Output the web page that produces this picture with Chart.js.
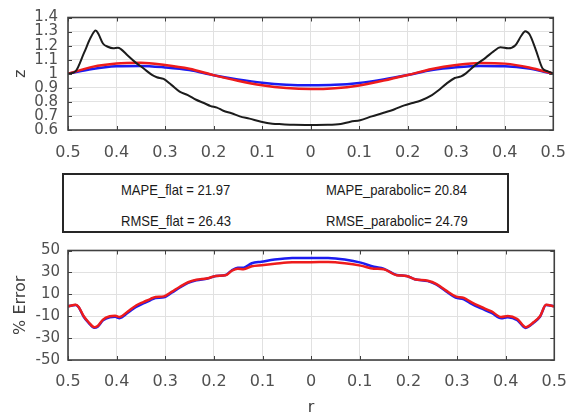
<!DOCTYPE html>
<html>
<head>
<meta charset="utf-8">
<script src="https://cdn.jsdelivr.net/npm/chart.js@4"></script>
<style>
  body { margin: 0; background: #fff; }
  #wrap { position: relative; width: 581px; height: 417px; overflow: hidden; }
  canvas { position: absolute; left: 0; }
  #c1 { top: 0; }
  #c2 { top: 235px; }
  #stats { position: absolute; left: 62px; top: 173px; width: 447px; height: 60px;
           border: 2px solid #262626; box-sizing: border-box; }
  .st { position: absolute; font: 15px "Liberation Sans", Arial, sans-serif; line-height: 15px;
        color: #1a1a1a; white-space: nowrap; transform: scaleX(0.87); transform-origin: left center; }
</style>
</head>
<body>
<div id="wrap">
  <canvas id="c1" width="581" height="165"></canvas>
  <div id="stats"></div>
  <canvas id="c2" width="581" height="182"></canvas>
</div>
<script>
// top panel: measured profile (black) vs flat / parabolic fits
const rMeasured = [-0.5, -0.484, -0.467, -0.453, -0.443, -0.437, -0.428, -0.418, -0.407, -0.397, -0.391, -0.377,
  -0.361, -0.344, -0.327, -0.317, -0.303, -0.287, -0.27, -0.253, -0.236, -0.22, -0.206, -0.193, -0.18, -0.163,
  -0.146, -0.126, -0.102, -0.079, -0.059, -0.035, 0, 0.035, 0.062, 0.082, 0.102, 0.126, 0.149, 0.173, 0.193,
  0.21, 0.226, 0.25, 0.263, 0.28, 0.297, 0.31, 0.32, 0.34, 0.361, 0.377, 0.391, 0.407, 0.422, 0.434, 0.442,
  0.451, 0.464, 0.478, 0.488, 0.5];
const zMeasured = [0.999, 1.019, 1.148, 1.259, 1.308, 1.281, 1.215, 1.192, 1.181, 1.185, 1.175, 1.13,
  1.081, 1.037, 0.992, 0.975, 0.963, 0.921, 0.873, 0.848, 0.815, 0.792, 0.77, 0.759, 0.737, 0.719,
  0.697, 0.681, 0.659, 0.645, 0.641, 0.637, 0.636, 0.637, 0.643, 0.659, 0.67, 0.697, 0.721, 0.748, 0.775,
  0.792, 0.808, 0.848, 0.881, 0.93, 0.97, 0.981, 1.003, 1.063, 1.115, 1.159, 1.188, 1.181, 1.203, 1.27, 1.303,
  1.281, 1.17, 1.037, 1.019, 1.003];

const rModel = [-0.5, -0.45, -0.4, -0.35, -0.3, -0.25, -0.2, -0.15, -0.1, -0.05, 0,
  0.05, 0.1, 0.15, 0.2, 0.25, 0.3, 0.35, 0.4, 0.45, 0.5];
const zFlat = [1.0, 1.034, 1.053, 1.056, 1.045, 1.026, 0.99, 0.96, 0.936, 0.922, 0.918,
  0.921, 0.935, 0.96, 0.991, 1.026, 1.046, 1.056, 1.054, 1.037, 1.0];
const zParabolic = [1.0, 1.049, 1.073, 1.078, 1.062, 1.035, 0.99, 0.95, 0.918, 0.898, 0.891,
  0.897, 0.917, 0.951, 0.991, 1.034, 1.062, 1.077, 1.072, 1.045, 1.0];

// bottom panel: percent error of each fit
const rError = [-0.5, -0.484, -0.478, -0.468, -0.458, -0.446, -0.439, -0.428, -0.414, -0.403, -0.394, -0.377,
  -0.36, -0.344, -0.33, -0.32, -0.303, -0.287, -0.27, -0.253, -0.236, -0.213, -0.196, -0.176, -0.163, -0.151,
  -0.139, -0.122, -0.102, -0.075, -0.039, 0, 0.035, 0.069, 0.102, 0.129, 0.149, 0.176, 0.196, 0.213, 0.24,
  0.257, 0.277, 0.297, 0.314, 0.33, 0.35, 0.371, 0.391, 0.404, 0.424, 0.441, 0.458, 0.471, 0.483, 0.5];
const errFlat = [-1.0, 0.3, -1.8, -10.3, -15.9, -20.6, -19.6, -13.8, -11.0, -10.6, -11.8, -6.9,
  -1.5, 1.9, 4.8, 6.5, 7.2, 11.4, 16.2, 20.4, 22.8, 24.4, 26.8, 27.6, 32.0, 34.2,
  34.3, 38.4, 39.8, 41.7, 43.1, 43.2, 43.1, 41.7, 38.9, 35.1, 33.4, 27.6, 26.8, 23.7, 22.0,
  19.0, 12.8, 7.0, 5.5, 1.3, -2.9, -7.0, -11.9, -11.0, -13.6, -20.7, -15.8, -10.2, 0.2, -1.0];
const errParabolic = [-1.0, 0.4, -1.6, -9.8, -15.3, -20.0, -18.9, -13.1, -10.1, -9.6, -10.7, -5.7,
  -0.2, 3.1, 5.9, 7.5, 8.1, 12.2, 16.9, 21.0, 23.2, 24.6, 26.8, 27.4, 31.5, 33.4,
  32.9, 35.6, 36.6, 37.8, 39.2, 39.3, 39.5, 38.4, 36.2, 33.4, 32.9, 27.4, 26.8, 23.8, 22.4,
  19.6, 13.6, 8.1, 6.7, 2.6, -1.6, -5.7, -10.7, -9.8, -12.6, -20.0, -15.3, -9.8, 0.4, -1.0];

const statLines = [
  ['MAPE_flat = 21.97', 'MAPE_parabolic= 20.84'],
  ['RMSE_flat = 26.43', 'RMSE_parabolic= 24.79']
];

const pts = (xs, ys) => xs.map((x, i) => ({x: x, y: ys[i]}));
const xTickFont = {family: 'DejaVu Sans', size: 16, lineHeight: 1};
const yTickFont = {family: 'DejaVu Sans', size: 15, lineHeight: 1};
const titleFont = {family: 'DejaVu Sans', size: 16, lineHeight: 1.2};
const tickColor = '#505050';
const gridColor = '#e1e1e1';

// matlab-ish box with inward ticks
const frame = {
  id: 'frame',
  afterDraw(chart) {
    const {ctx, chartArea: a, scales} = chart;
    ctx.save();
    ctx.strokeStyle = '#404040';
    ctx.lineWidth = 1;
    ctx.beginPath();
    scales.x.ticks.forEach(t => {
      const p = Math.round(scales.x.getPixelForValue(t.value)) + 0.5;
      ctx.moveTo(p, a.bottom); ctx.lineTo(p, a.bottom - 4);
      ctx.moveTo(p, a.top); ctx.lineTo(p, a.top + 4);
    });
    scales.y.ticks.forEach(t => {
      const p = Math.round(scales.y.getPixelForValue(t.value)) + 0.5;
      ctx.moveTo(a.left, p); ctx.lineTo(a.left + 4, p);
      ctx.moveTo(a.right, p); ctx.lineTo(a.right - 4, p);
    });
    ctx.stroke();
    ctx.lineWidth = 1.6;
    ctx.strokeRect(a.left, a.top, a.right - a.left, a.bottom - a.top);
    ctx.restore();
  }
};

function xScale(height, pad, title) {
  return {
    type: 'linear', min: -0.5, max: 0.5,
    afterFit: s => { s.height = height; },
    ticks: {stepSize: 0.1, autoSkip: false, color: tickColor, font: xTickFont, padding: pad, maxRotation: 0,
      callback: v => String(Number(Math.abs(v).toFixed(1)))},
    grid: {color: gridColor, drawTicks: false},
    border: {display: false},
    title: title ? {display: true, text: title, color: '#404040', font: titleFont, padding: {top: 0, bottom: 0}} : {display: false}
  };
}

function yScale(min, max, step, pad, title) {
  return {
    min: min, max: max,
    afterFit: s => { s.width = 68; },
    ticks: {stepSize: step, autoSkip: false, color: tickColor, font: yTickFont, padding: pad,
      callback: v => String(Number(v.toFixed(1)))},
    grid: {color: gridColor, drawTicks: false},
    border: {display: false},
    title: {display: true, text: title, color: '#404040', font: titleFont, padding: {top: 11, bottom: 0}}
  };
}

const line = (data, color, width) => ({
  data: data, borderColor: color, borderWidth: width, pointRadius: 0,
  cubicInterpolationMode: 'monotone', fill: false
});

new Chart(document.getElementById('c1'), {
  type: 'line',
  data: {datasets: [
    line(pts(rMeasured, zMeasured), '#1c1c1c', 2),
    line(pts(rModel, zParabolic), '#ee1c1c', 2.5),
    line(pts(rModel, zFlat), '#1c1cf0', 2.5)
  ]},
  options: {
    responsive: false, animation: false,
    layout: {padding: {left: 0, right: 15, top: 10, bottom: 0}},
    plugins: {legend: {display: false}, tooltip: {enabled: false}},
    scales: {x: xScale(35, 15), y: yScale(0.6, 1.4, 0.1, 10, 'z')}
  },
  plugins: [frame]
});

new Chart(document.getElementById('c2'), {
  type: 'line',
  data: {datasets: [
    line(pts(rError, errParabolic), '#ee1c1c', 2.5),
    line(pts(rError, errFlat), '#1c1cf0', 2.5)
  ]},
  options: {
    responsive: false, animation: false,
    layout: {padding: {left: 0, right: 15, top: 7, bottom: 0}},
    plugins: {legend: {display: false}, tooltip: {enabled: false}},
    scales: {x: xScale(57, 14, 'r'), y: yScale(-50, 50, 20, 8, '% Error')}
  },
  plugins: [frame]
});

// stats box text
const box = document.getElementById('stats');
const colX = [121, 326], rowY = [189.5, 220];
statLines.forEach((row, i) => row.forEach((txt, j) => {
  const s = document.createElement('span');
  s.className = 'st';
  s.textContent = txt;
  s.style.left = (colX[j] - 62 - 2) + 'px';
  s.style.top = (rowY[i] - 173 - 2 - 7.5) + 'px';
  box.appendChild(s);
}));
</script>
</body>
</html>
